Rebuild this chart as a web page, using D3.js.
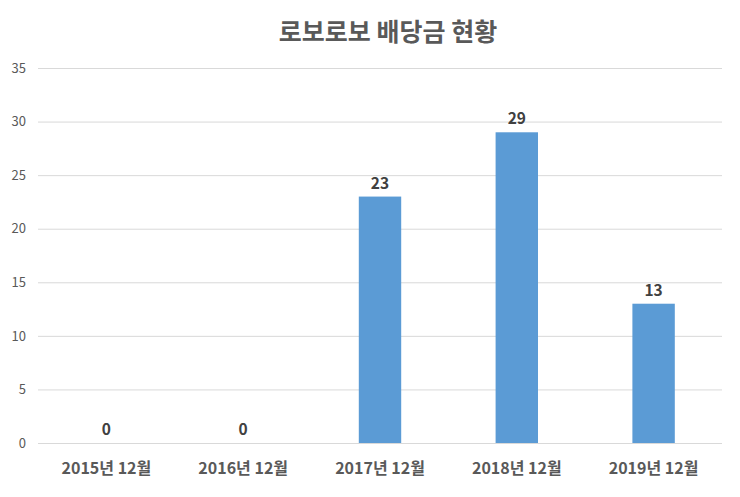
<!DOCTYPE html>
<html><head><meta charset="utf-8">
<script src="https://cdn.jsdelivr.net/npm/d3@7"></script>
<style>body{margin:0;background:#fff}</style>
</head><body>
<svg id="c" width="740" height="497"></svg>
<script>
const categories = ["2015년 12월","2016년 12월","2017년 12월","2018년 12월","2019년 12월"];
const values = [0,0,23,29,13];
const yTicks = [0,5,10,15,20,25,30,35];
const title = "로보로보 배당금 현황";

const svg = d3.select("#c");
const font = "'Noto Sans CJK KR','Noto Sans',sans-serif";
const m = {l:38, r:18, t:68, b:54};
const W = 740, H = 497;
const x = d3.scaleBand().domain(categories).range([m.l, W-m.r]).paddingInner(0.69).paddingOuter(0.345);
const y = d3.scaleLinear().domain([0,35]).range([H-m.b, m.t]);

svg.append("text").attr("x",388).attr("y",41).attr("text-anchor","middle")
  .attr("font-family",font).attr("font-weight","bold").attr("font-size",25)
  .attr("fill","#595959").text(title);

const ga = svg.append("g").attr("transform",`translate(${m.l},0)`)
  .call(d3.axisLeft(y).tickValues(yTicks).tickSize(-(W-m.l-m.r)).tickPadding(12));
ga.select(".domain").remove();
ga.selectAll(".tick line").attr("stroke","#d9d9d9").attr("stroke-width",1);
ga.selectAll(".tick text").attr("font-family",font).attr("font-size",13).attr("fill","#595959");

svg.selectAll("rect.bar").data(values).join("rect").attr("class","bar")
  .attr("x",(d,i)=>x(categories[i])).attr("width",x.bandwidth())
  .attr("y",d=>y(d)).attr("height",d=>y(0)-y(d)).attr("fill","#5b9bd5");

svg.selectAll("text.lbl").data(values).join("text").attr("class","lbl")
  .attr("x",(d,i)=>x(categories[i])+x.bandwidth()/2).attr("y",d=>y(d)-8)
  .attr("text-anchor","middle").attr("font-family",font).attr("font-weight","bold")
  .attr("font-size",15.5).attr("fill","#404040").text(d=>d);

const gx = svg.append("g").attr("transform",`translate(0,${y(0)})`)
  .call(d3.axisBottom(x).tickSize(0).tickPadding(20));
gx.select(".domain").remove();
gx.selectAll(".tick text").attr("font-family",font).attr("font-weight","bold")
  .attr("font-size",16).attr("fill","#595959");
</script>
</body></html>
